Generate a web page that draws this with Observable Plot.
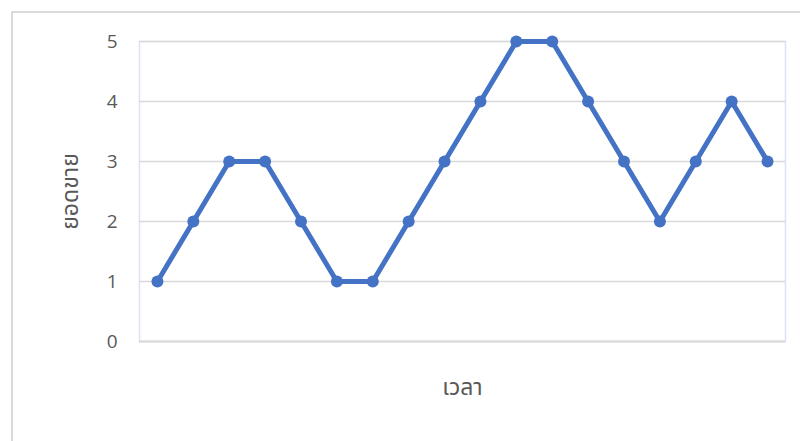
<!DOCTYPE html>
<html>
<head>
<meta charset="utf-8">
<script src="https://cdn.jsdelivr.net/npm/d3@7"></script>
<script src="https://cdn.jsdelivr.net/npm/@observablehq/plot@0.6"></script>
<style>
  html, body { margin: 0; padding: 0; background: #fff; overflow: hidden; }
  #wrap { position: relative; width: 800px; height: 441px; }
  #border { position: absolute; left: 11px; top: 11px; width: 820px; height: 480px; border-left: 2px solid #d9d9d9; border-top: 2px solid #d9d9d9; pointer-events: none; }
  svg { font-family: "Open Sans", "Noto Sans Thai", "Noto Sans", sans-serif; }
</style>
</head>
<body>
<div id="wrap"><div id="border"></div></div>
<script>
const periods = [1,2,3,4,5,6,7,8,9,10,11,12,13,14,15,16,17,18];
const sales   = [1,2,3,3,2,1,1,2,3,4,5,5,4,3,2,3,4,3];
const yTicks  = [0,1,2,3,4,5];
const xTitle  = "เวลา";
const yTitle  = "ยอดขาย";

const data = periods.map((p, i) => ({period: p, sales: sales[i]}));

const chart = Plot.plot({
  width: 800,
  height: 441,
  marginLeft: 139,
  marginRight: 15,
  marginTop: 41,
  marginBottom: 100,
  style: {background: "transparent"},
  x: {type: "point", domain: periods, padding: 0.5, round: false, axis: null},
  y: {domain: [0, 5], axis: null},
  marks: [
    Plot.frame({stroke: "#dae3f3", strokeWidth: 1.5}),
    Plot.gridY(yTicks, {stroke: "#d9d9d9", strokeOpacity: 1, strokeWidth: 1.5}),
    Plot.ruleY([0], {stroke: "#d9d9d9", strokeWidth: 2}),
    Plot.axisY(yTicks, {tickSize: 0, tickPadding: 22, tickFormat: "d", fontSize: 19, fill: "#595959", label: null}),
    Plot.line(data, {x: "period", y: "sales", stroke: "#4472C4", strokeWidth: 5, strokeLinejoin: "round"}),
    Plot.dot(data, {x: "period", y: "sales", r: 6, fill: "#4472C4", stroke: "none"}),
    Plot.text([yTitle], {frameAnchor: "left", dx: -69, rotate: -90, textAnchor: "middle", lineAnchor: "middle", fontSize: 23, fill: "#595959"}),
    Plot.text([xTitle], {frameAnchor: "bottom", dy: 46, textAnchor: "middle", lineAnchor: "middle", fontSize: 23, fill: "#595959"})
  ]
});
document.getElementById("wrap").prepend(chart);
</script>
</body>
</html>
